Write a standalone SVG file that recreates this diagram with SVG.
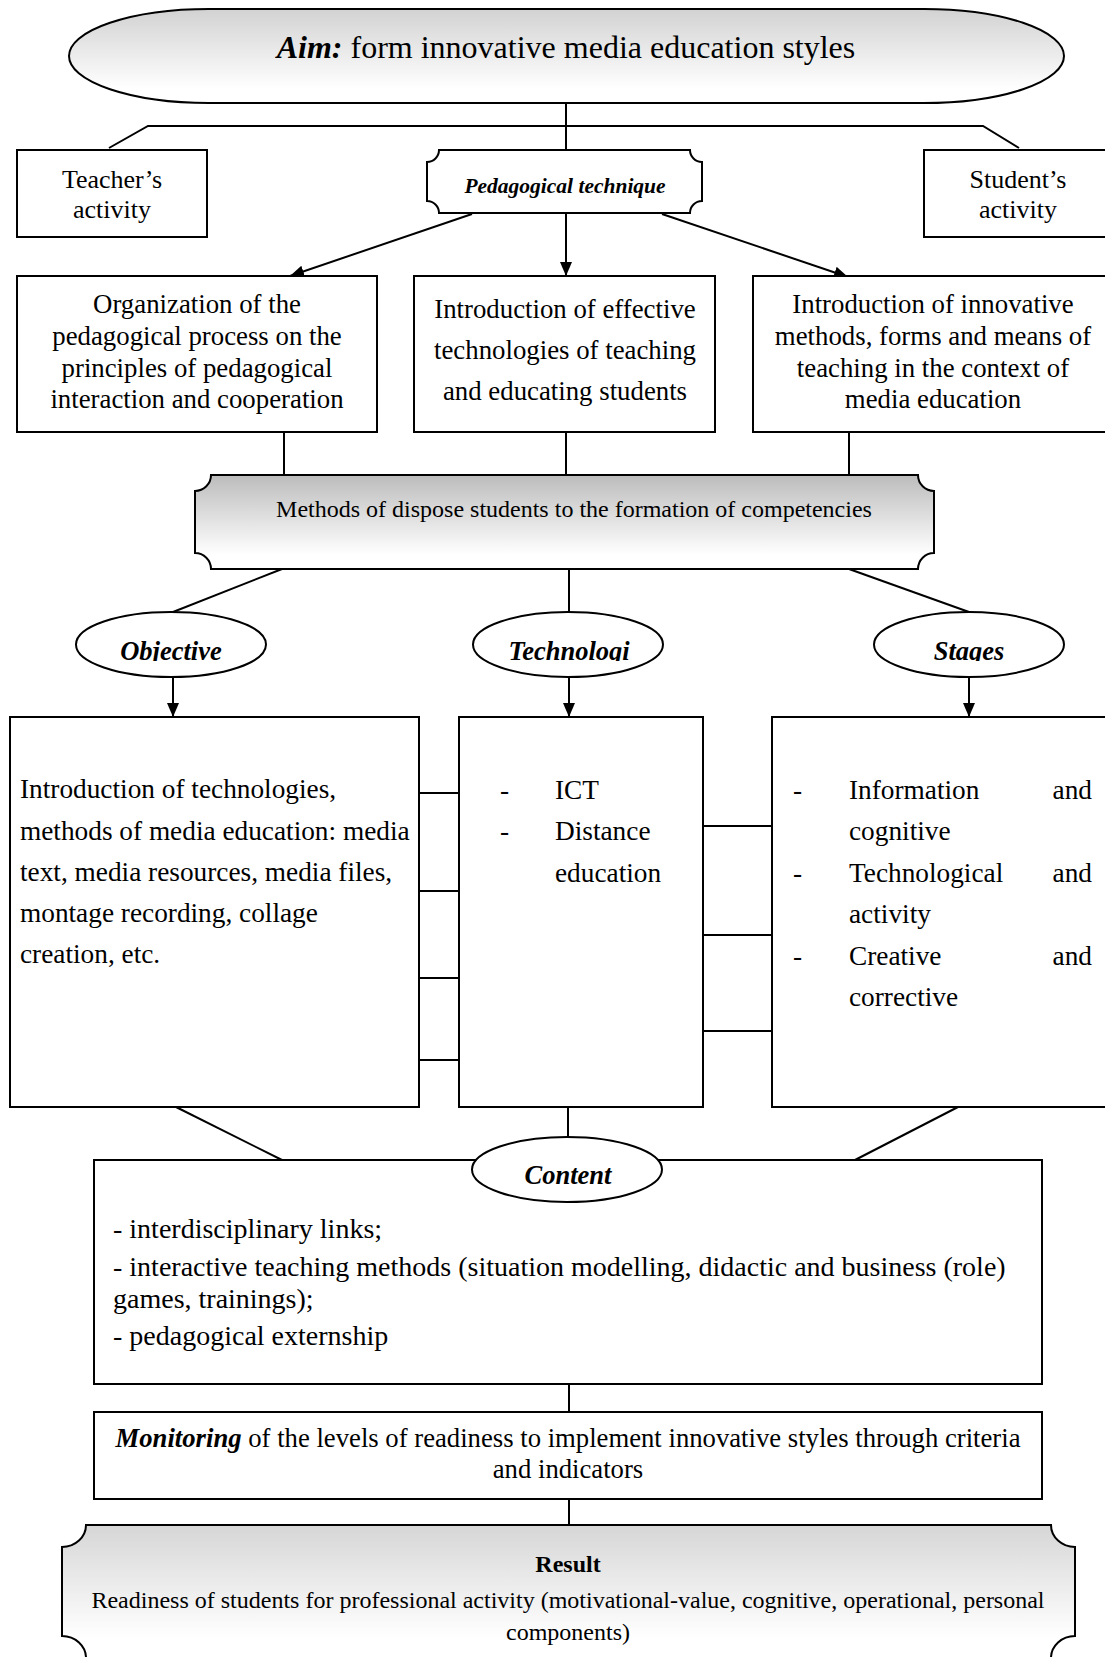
<svg xmlns="http://www.w3.org/2000/svg" width="1105" height="1657" viewBox="0 0 1105 1657">
<style>
text{font-family:"Liberation Serif","Times New Roman",serif;fill:#000}
.box{fill:#fff;stroke:#000;stroke-width:2}
.sh{stroke:#000;stroke-width:2}
.ln{stroke:#000;stroke-width:2;fill:none}
.t1{font-size:26.8px}
.t2{font-size:27.3px}
.t26{font-size:26px}
.bi{font-weight:bold;font-style:italic}
.lab{font-weight:bold;font-style:italic;font-size:26.5px;text-anchor:middle}
.c{text-anchor:middle}
</style>
<defs>
<linearGradient id="ga" x1="0" y1="0" x2="0" y2="1">
<stop offset="0" stop-color="#d2d2d2"/>
<stop offset="0.85" stop-color="#ffffff"/>
</linearGradient>
<linearGradient id="gm" x1="0" y1="0" x2="0" y2="1">
<stop offset="0" stop-color="#bcbcbc"/>
<stop offset="0.85" stop-color="#ffffff"/>
</linearGradient>
<linearGradient id="gr" x1="0" y1="0" x2="0" y2="1">
<stop offset="0" stop-color="#d6d6d6"/>
<stop offset="0.85" stop-color="#ffffff"/>
</linearGradient>
<marker id="ar" markerUnits="userSpaceOnUse" markerWidth="16" markerHeight="14" refX="14" refY="6" orient="auto">
<path d="M0,0 L14,6 L0,12 Z" fill="#000"/>
</marker>
<clipPath id="c1"><rect x="70" y="600" width="200" height="61"/></clipPath>
<clipPath id="c2"><rect x="470" y="600" width="200" height="61"/></clipPath>
<clipPath id="c3"><rect x="870" y="600" width="200" height="61"/></clipPath>
</defs>

<g id="connectors">
<line class="ln" x1="566" y1="103" x2="566" y2="150"/>
<polyline class="ln" points="109,148 148,126 983,126 1019,148"/>
<line class="ln" x1="472" y1="214" x2="290" y2="276" marker-end="url(#ar)"/>
<line class="ln" x1="566" y1="213" x2="566" y2="276" marker-end="url(#ar)"/>
<line class="ln" x1="662" y1="214" x2="848" y2="277" marker-end="url(#ar)"/>
<line class="ln" x1="284" y1="432" x2="284" y2="475"/>
<line class="ln" x1="566" y1="432" x2="566" y2="475"/>
<line class="ln" x1="849" y1="432" x2="849" y2="475"/>
<line class="ln" x1="282" y1="569" x2="173" y2="612"/>
<line class="ln" x1="569" y1="569" x2="569" y2="612"/>
<line class="ln" x1="849" y1="569" x2="969" y2="612"/>
<line class="ln" x1="173" y1="677" x2="173" y2="717" marker-end="url(#ar)"/>
<line class="ln" x1="569" y1="677" x2="569" y2="717" marker-end="url(#ar)"/>
<line class="ln" x1="969" y1="677" x2="969" y2="717" marker-end="url(#ar)"/>
<line class="ln" x1="419" y1="793" x2="459" y2="793"/>
<line class="ln" x1="419" y1="891" x2="459" y2="891"/>
<line class="ln" x1="419" y1="978" x2="459" y2="978"/>
<line class="ln" x1="419" y1="1060" x2="459" y2="1060"/>
<line class="ln" x1="703" y1="826" x2="772" y2="826"/>
<line class="ln" x1="703" y1="935" x2="772" y2="935"/>
<line class="ln" x1="703" y1="1031" x2="772" y2="1031"/>
<line class="ln" x1="176" y1="1107" x2="282" y2="1160"/>
<line class="ln" x1="568" y1="1107" x2="568" y2="1137"/>
<line class="ln" x1="958" y1="1107" x2="855" y2="1160"/>
<line class="ln" x1="569" y1="1384" x2="569" y2="1412"/>
<line class="ln" x1="569" y1="1499" x2="569" y2="1525"/>
</g>

<g id="aim">
<rect x="69" y="9" width="995" height="94" rx="140" ry="47" fill="url(#ga)" class="sh"/>
<text x="566" y="58" font-size="32px" class="c"><tspan class="bi">Aim:</tspan> form innovative media education styles</text>
</g>

<g id="teacher">
<rect class="box" x="17" y="150" width="190" height="87"/>
<text class="t26 c" x="112" y="188">Teacher’s</text>
<text class="t26 c" x="112" y="218">activity</text>
</g>

<g id="pedtech">
<path class="sh" fill="#fff" d="M439,150 H690 A12,12 0 0 0 702,162 V201 A12,12 0 0 0 690,213 H439 A12,12 0 0 0 427,201 V162 A12,12 0 0 0 439,150 Z"/>
<text class="bi c" font-size="21.5px" x="565" y="193">Pedagogical technique</text>
</g>

<g id="student">
<rect class="box" x="924" y="150" width="190" height="87"/>
<text class="t26 c" x="1018" y="188">Student’s</text>
<text class="t26 c" x="1018" y="218">activity</text>
</g>

<g id="org">
<rect class="box" x="17" y="276" width="360" height="156"/>
<text class="t1 c" x="197" y="313">Organization of the</text>
<text class="t1 c" x="197" y="345">pedagogical process on the</text>
<text class="t1 c" x="197" y="377">principles of pedagogical</text>
<text class="t1 c" x="197" y="408">interaction and cooperation</text>
</g>

<g id="effective">
<rect class="box" x="414" y="276" width="301" height="156"/>
<text class="t1 c" x="565" y="318">Introduction of effective</text>
<text class="t1 c" x="565" y="359">technologies of teaching</text>
<text class="t1 c" x="565" y="400">and educating students</text>
</g>

<g id="innovative">
<rect class="box" x="753" y="276" width="360" height="156"/>
<text class="t1 c" x="933" y="313">Introduction of innovative</text>
<text class="t1 c" x="933" y="345">methods, forms and means of</text>
<text class="t1 c" x="933" y="377">teaching in the context of</text>
<text class="t1 c" x="933" y="408">media education</text>
</g>

<g id="methods">
<path class="sh" fill="url(#gm)" d="M211,475 H918 A16,16 0 0 0 934,491 V553 A16,16 0 0 0 918,569 H211 A16,16 0 0 0 195,553 V491 A16,16 0 0 0 211,475 Z"/>
<text class="c" font-size="24px" x="574" y="517">Methods of dispose students to the formation of competencies</text>
</g>

<g id="objective">
<ellipse class="box" cx="171" cy="644.5" rx="95" ry="32.5"/>
<text class="lab" x="171" y="660" clip-path="url(#c1)">Objective</text>
</g>
<g id="technologi">
<ellipse class="box" cx="568" cy="644.5" rx="95" ry="32.5"/>
<text class="lab" x="569" y="660" clip-path="url(#c2)">Technologi</text>
</g>
<g id="stages">
<ellipse class="box" cx="969" cy="644.5" rx="95" ry="32.5"/>
<text class="lab" x="969" y="660" clip-path="url(#c3)">Stages</text>
</g>

<g id="objbox">
<rect class="box" x="10" y="717" width="409" height="390"/>
<text class="t2" x="20" y="798">Introduction of technologies,</text>
<text class="t2" x="20" y="840">methods of media education: media</text>
<text class="t2" x="20" y="881">text, media resources, media files,</text>
<text class="t2" x="20" y="922">montage recording, collage</text>
<text class="t2" x="20" y="963">creation, etc.</text>
</g>

<g id="techbox">
<rect class="box" x="459" y="717" width="244" height="390"/>
<text class="t2" x="500" y="799">-</text>
<text class="t2" x="555" y="799">ICT</text>
<text class="t2" x="500" y="840">-</text>
<text class="t2" x="555" y="840">Distance</text>
<text class="t2" x="555" y="882">education</text>
</g>

<g id="stagebox">
<rect class="box" x="772" y="717" width="345" height="390"/>
<text class="t2" x="793" y="799">-</text>
<text class="t2" x="849" y="799">Information</text>
<text class="t2" x="1092" y="799" text-anchor="end">and</text>
<text class="t2" x="849" y="840">cognitive</text>
<text class="t2" x="793" y="882">-</text>
<text class="t2" x="849" y="882">Technological</text>
<text class="t2" x="1092" y="882" text-anchor="end">and</text>
<text class="t2" x="849" y="923">activity</text>
<text class="t2" x="793" y="965">-</text>
<text class="t2" x="849" y="965">Creative</text>
<text class="t2" x="1092" y="965" text-anchor="end">and</text>
<text class="t2" x="849" y="1006">corrective</text>
</g>

<g id="content">
<rect class="box" x="94" y="1160" width="948" height="224"/>
<ellipse class="box" cx="567" cy="1169.5" rx="95" ry="32.5"/>
<text class="lab" font-size="27px" x="568" y="1184">Content</text>
<text font-size="28px" x="113" y="1238">- interdisciplinary links;</text>
<text font-size="28px" x="113" y="1276">- interactive teaching methods (situation modelling, didactic and business (role)</text>
<text font-size="28px" x="113" y="1308">games, trainings);</text>
<text font-size="28px" x="113" y="1345">- pedagogical externship</text>
</g>

<g id="monitoring">
<rect class="box" x="94" y="1412" width="948" height="87"/>
<text class="c" font-size="26.7px" x="568" y="1447"><tspan class="bi">Monitoring</tspan> of the levels of readiness to implement innovative styles through criteria</text>
<text class="c" font-size="26.7px" x="568" y="1478">and indicators</text>
</g>

<g id="result">
<path class="sh" fill="url(#gr)" d="M86,1525 H1051 A24,22 0 0 0 1075,1547 V1636 A24,22 0 0 0 1051,1658 H86 A24,22 0 0 0 62,1636 V1547 A24,22 0 0 0 86,1525 Z"/>
<text class="c" font-size="24px" font-weight="bold" x="568" y="1572">Result</text>
<text class="c" font-size="24px" x="568" y="1608">Readiness of students for professional activity (motivational-value, cognitive, operational, personal</text>
<text class="c" font-size="24px" x="568" y="1640">components)</text>
</g>
</svg>
